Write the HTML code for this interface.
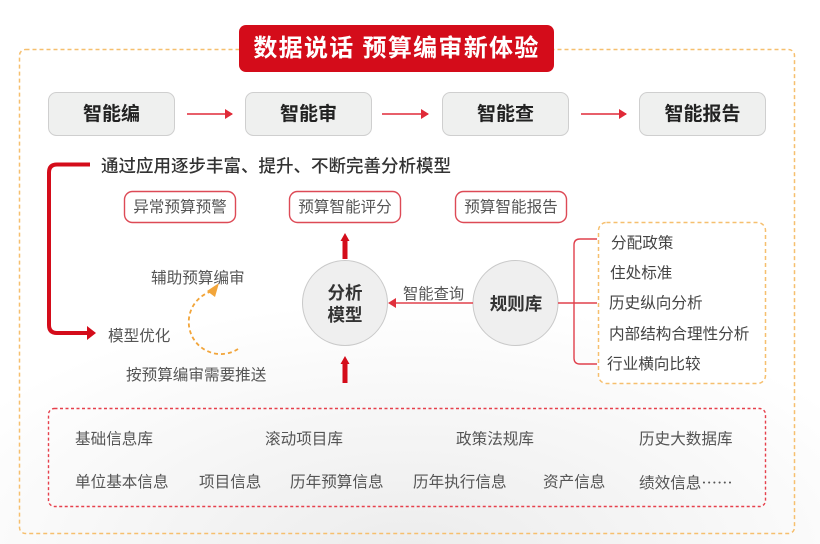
<!DOCTYPE html>
<html>
<head>
<meta charset="utf-8">
<style>
html,body{margin:0;padding:0;}
body{width:820px;height:544px;position:relative;overflow:hidden;background:#fff;font-family:"Liberation Sans","Noto Sans CJK SC",sans-serif;}
.bg{position:absolute;left:0;top:0;width:820px;height:544px;background:radial-gradient(ellipse 520px 260px at 410px 560px,#ececec 0%,#f4f4f4 45%,rgba(255,255,255,0) 100%);}
svg{position:absolute;left:0;top:0;}
.t{position:absolute;white-space:nowrap;line-height:1;}
.title{left:239px;top:25px;width:315px;height:47px;line-height:47px;text-align:center;color:#fff;font-weight:bold;font-size:24px;letter-spacing:1.3px;}
.step{position:absolute;top:93px;height:44px;line-height:44px;text-align:center;font-size:19px;font-weight:bold;color:#222;}
.rb{position:absolute;top:192px;height:32px;line-height:32px;text-align:center;font-size:15.6px;color:#555;}
.lab{font-size:15.6px;color:#555;}
.li{font-size:15.6px;color:#444;}
.db{font-size:15.6px;color:#555;}
.circ{position:absolute;text-align:center;font-weight:bold;color:#333;font-size:17.5px;}
.cjk{font-family:"Noto Sans CJK SC",sans-serif;}
</style>
</head>
<body>
<div class="bg"></div>
<svg width="820" height="544" viewBox="0 0 820 544" xmlns="http://www.w3.org/2000/svg">
  <defs>
    <marker id="ah" markerWidth="8" markerHeight="10" refX="7" refY="5" orient="auto" markerUnits="userSpaceOnUse">
      <path d="M0,0 L8,5 L0,10 Z" fill="#e02a38"/>
    </marker>
  </defs>
  <rect x="19.5" y="49.5" width="775" height="484" rx="6" fill="none" stroke="#f6bf6e" stroke-width="1.5" stroke-dasharray="4 3"/>
  <rect x="239" y="25" width="315" height="47" rx="7" fill="#d40c1a"/>
  <rect x="48.5" y="92.5" width="126" height="43" rx="8" fill="#eff0ef" stroke="#cfcfcf" stroke-width="1"/>
  <rect x="245.5" y="92.5" width="126" height="43" rx="8" fill="#eff0ef" stroke="#cfcfcf" stroke-width="1"/>
  <rect x="442.5" y="92.5" width="126" height="43" rx="8" fill="#eff0ef" stroke="#cfcfcf" stroke-width="1"/>
  <rect x="639.5" y="92.5" width="126" height="43" rx="8" fill="#eff0ef" stroke="#cfcfcf" stroke-width="1"/>
  <line x1="187" y1="114" x2="232" y2="114" stroke="#e02a38" stroke-width="1.6" marker-end="url(#ah)"/>
  <line x1="382" y1="114" x2="428" y2="114" stroke="#e02a38" stroke-width="1.6" marker-end="url(#ah)"/>
  <line x1="581" y1="114" x2="626" y2="114" stroke="#e02a38" stroke-width="1.6" marker-end="url(#ah)"/>
  <path d="M90,164.5 L57,164.5 Q49,164.5 49,172.5 L49,325 Q49,333 57,333 L88,333" fill="none" stroke="#d40c1a" stroke-width="4"/>
  <path d="M87,326 L96,333 L87,340 Z" fill="#d40c1a"/>
  <rect x="124.5" y="191.5" width="111" height="31" rx="8" fill="#fff" stroke="#dd4a56" stroke-width="1.4"/>
  <rect x="289.5" y="191.5" width="111" height="31" rx="8" fill="#fff" stroke="#dd4a56" stroke-width="1.4"/>
  <rect x="455.5" y="191.5" width="111" height="31" rx="8" fill="#fff" stroke="#dd4a56" stroke-width="1.4"/>
  <rect x="342.5" y="240" width="5" height="19" fill="#d40c1a"/>
  <path d="M340.5,241 L345,233 L349.5,241 Z" fill="#d40c1a"/>
  <rect x="342.5" y="363" width="5" height="20" fill="#d40c1a"/>
  <path d="M340.5,364 L345,356 L349.5,364 Z" fill="#d40c1a"/>
  <circle cx="345" cy="303" r="42.5" fill="#efefef" stroke="#c9c9c9" stroke-width="1"/>
  <circle cx="515.5" cy="303" r="42.5" fill="#efefef" stroke="#c9c9c9" stroke-width="1"/>
  <line x1="473" y1="303" x2="394" y2="303" stroke="#e0404c" stroke-width="1.4"/>
  <path d="M396,298 L388,303 L396,308 Z" fill="#e0303c"/>
  <line x1="558" y1="303" x2="597" y2="303" stroke="#e0404c" stroke-width="1.4"/>
  <path d="M597,239 L580,239 Q574,239 574,245 L574,358 Q574,364 580,364 L597,364" fill="none" stroke="#e0404c" stroke-width="1.4"/>
  <rect x="598.5" y="222.5" width="167" height="161" rx="8" fill="#fff" stroke="#f6bf6e" stroke-width="1.5" stroke-dasharray="4 3"/>
  <path d="M238,349 A32,32 0 1,1 213,291" fill="none" stroke="#f2a53a" stroke-width="1.8" stroke-dasharray="4 3"/>
  <path d="M207,291 L219,283 L215,297 Z" fill="#f2a53a"/>
  <rect x="48.5" y="408.5" width="717" height="98" rx="6" fill="none" stroke="#e6404c" stroke-width="1.4" stroke-dasharray="3 2.5"/>
</svg>

<div class="t title">数据说话 预算编审新体验</div>

<div class="step" style="left:48px;width:127px;">智能编</div>
<div class="step" style="left:245px;width:127px;">智能审</div>
<div class="step" style="left:442px;width:127px;">智能查</div>
<div class="step" style="left:639px;width:127px;">智能报告</div>

<div class="t" style="left:101px;top:158px;font-size:17.5px;color:#333;font-weight:500;">通过应用逐步丰富、提升、不断完善分析模型</div>

<div class="rb" style="left:124px;width:112px;">异常预算预警</div>
<div class="rb" style="left:289px;width:112px;">预算智能评分</div>
<div class="rb" style="left:455px;width:112px;">预算智能报告</div>

<div class="t lab" style="left:151px;top:271px;">辅助预算编审</div>
<div class="t lab" style="left:108px;top:329px;">模型优化</div>
<div class="t lab" style="left:126px;top:368px;">按预算编审需要推送</div>

<div class="circ" style="left:302px;top:282px;width:86px;line-height:22px;">分析<br>模型</div>
<div class="circ" style="left:473px;top:294px;width:86px;line-height:20px;">规则库</div>
<div class="t lab" style="left:403px;top:287px;font-size:15.3px;">智能查询</div>

<div class="t li" style="left:611px;top:236px;">分配政策</div>
<div class="t li" style="left:610px;top:266px;">住处标准</div>
<div class="t li" style="left:609px;top:296px;">历史纵向分析</div>
<div class="t li" style="left:609px;top:327px;">内部结构合理性分析</div>
<div class="t li" style="left:607px;top:357px;">行业横向比较</div>

<div class="t db" style="left:75px;top:432px;">基础信息库</div>
<div class="t db" style="left:265px;top:432px;">滚动项目库</div>
<div class="t db" style="left:456px;top:432px;">政策法规库</div>
<div class="t db" style="left:639px;top:432px;">历史大数据库</div>

<div class="t db" style="left:75px;top:475px;">单位基本信息</div>
<div class="t db" style="left:199px;top:475px;">项目信息</div>
<div class="t db" style="left:290px;top:475px;">历年预算信息</div>
<div class="t db" style="left:413px;top:475px;">历年执行信息</div>
<div class="t db" style="left:543px;top:475px;">资产信息</div>
<div class="t db" style="left:639px;top:475px;">绩效信息<span class="cjk">……</span></div>
</body>
</html>
